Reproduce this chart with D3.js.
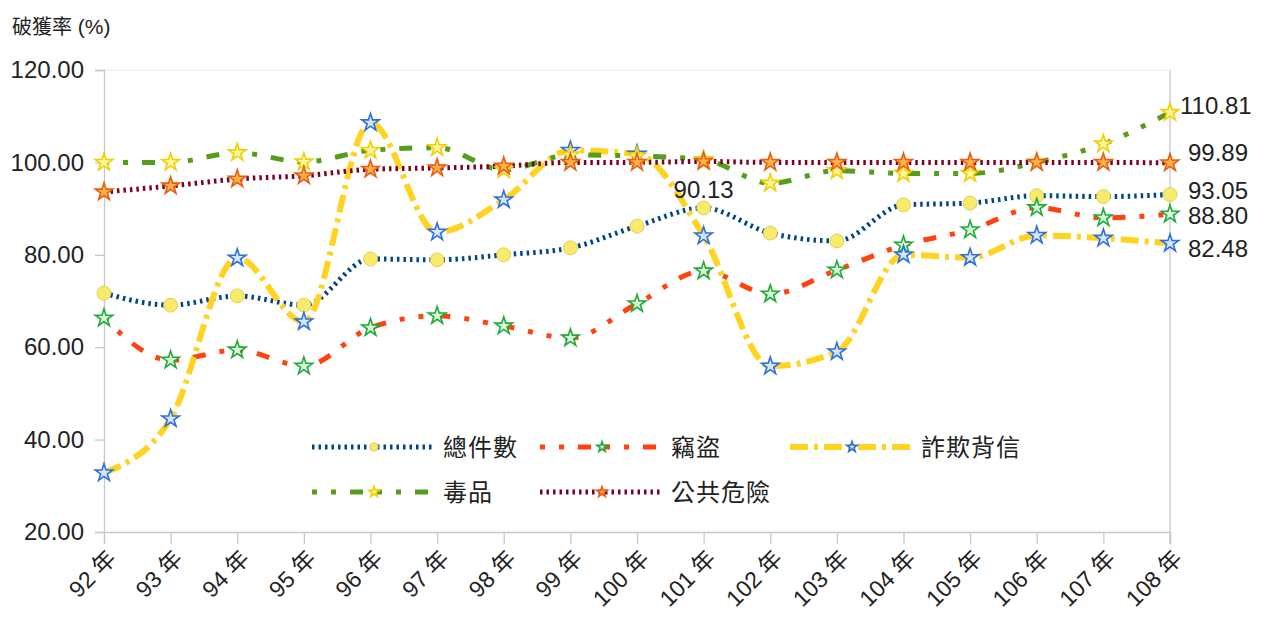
<!DOCTYPE html>
<html>
<head>
<meta charset="utf-8">
<script src="https://cdn.jsdelivr.net/npm/d3@7"></script>
<style>
  body { margin: 0; background: #fff; }
  text { font-family: "Liberation Sans", "Noto Sans CJK TC", sans-serif; fill: #222; }
  .cjk { font-family: "Noto Sans CJK TC", sans-serif; }
</style>
</head>
<body>
<div id="chart_area"></div>
<script>
// categories and series values
var years = ["92", "93", "94", "95", "96", "97", "98", "99", "100", "101", "102", "103", "104", "105", "106", "107", "108"];
var totalCases = [71.7, 69.1, 71.1, 69.1, 79.1, 78.9, 80.0, 81.5, 86.2, 90.13, 84.7, 83.0, 90.8, 91.2, 92.8, 92.6, 93.05];
var theft = [66.3, 57.2, 59.4, 55.9, 64.2, 66.8, 64.6, 62.0, 69.4, 76.5, 71.5, 76.7, 82.1, 85.4, 90.2, 88.0, 88.80];
var fraud = [32.8, 44.5, 79.3, 65.5, 108.6, 84.9, 91.9, 102.6, 101.8, 84.1, 55.9, 59.0, 80.0, 79.4, 84.2, 83.6, 82.48];
var drugs = [100.0, 100.0, 102.1, 100.1, 102.6, 103.2, 98.4, 101.6, 101.4, 100.6, 95.5, 98.2, 97.6, 97.6, 100.0, 104.0, 110.81];
var publicDanger = [93.6, 94.9, 96.4, 97.1, 98.5, 98.8, 99.2, 100.0, 100.0, 100.2, 100.0, 100.0, 100.0, 100.0, 100.0, 100.0, 99.89];
var yTicks = [20, 40, 60, 80, 100, 120];

var series = [
  { name: "總件數", values: totalCases, color: "#004586", dash: "2.5,4", width: 5, marker: "circle" },
  { name: "竊盜", values: theft, color: "#ff420e", dash: "5,14,5,14,13,14", width: 5, marker: "star", mFill: "#d9f7d9", mStroke: "#1faa3a" },
  { name: "詐欺背信", values: fraud, color: "#ffd320", dash: "18,6,4,6", width: 6, marker: "star", mFill: "#d6e6ff", mStroke: "#2f6fd8" },
  { name: "毒品", values: drugs, color: "#579d1c", dash: "5,14,5,14,13,14", width: 5, marker: "star", mFill: "#fff7a0", mStroke: "#f2cf00" },
  { name: "公共危險", values: publicDanger, color: "#7e0021", dash: "2.5,4", width: 5, marker: "star", mFill: "#ffb24a", mStroke: "#e85d10" }
];

var width = 1266, height = 621;
var margin = { top: 70, right: 96, bottom: 89, left: 104 };

var svg = d3.select("#chart_area").append("svg")
  .attr("width", width).attr("height", height);

var x = d3.scalePoint().domain(years).range([margin.left, width - margin.right]);
var y = d3.scaleLinear().domain([20, 120]).range([height - margin.bottom, margin.top]);

var x0 = margin.left, x1 = width - margin.right, yb = y(20), yt = y(120);

// frame
svg.append("line").attr("x1", x0).attr("x2", x1).attr("y1", yt).attr("y2", yt)
  .style("stroke", "#ececec").style("stroke-width", 1);
svg.append("line").attr("x1", x1).attr("x2", x1).attr("y1", yt).attr("y2", yb + 12)
  .style("stroke", "#c8c8c8").style("stroke-width", 1.3);

// y axis
var yAxis = d3.axisLeft(y).tickValues(yTicks).tickSize(9).tickPadding(11)
  .tickFormat(d3.format(".2f"));
var gy = svg.append("g").attr("transform", "translate(" + x0 + ",0)").call(yAxis);
gy.select(".domain").style("stroke", "#c8c8c8").style("stroke-width", 1.3);
gy.selectAll(".tick line").style("stroke", "#c8c8c8").style("stroke-width", 1.3);
gy.selectAll(".tick text").style("font-size", "24px").style("font-family", "Liberation Sans").style("fill", "#222");

// x axis
var xAxis = d3.axisBottom(x).tickSize(12).tickPadding(0).tickFormat(function (d) { return d + " 年"; });
var gx = svg.append("g").attr("transform", "translate(0," + yb + ")").call(xAxis);
gx.select(".domain").style("stroke", "#c8c8c8").style("stroke-width", 1.3);
gx.selectAll(".tick line").style("stroke", "#c8c8c8").style("stroke-width", 1.3);
gx.selectAll(".tick text")
  .style("font-size", "23px").style("font-family", "Liberation Sans, Noto Sans CJK TC").style("fill", "#222")
  .attr("text-anchor", "end")
  .attr("dy", null).attr("y", 0)
  .attr("transform", "translate(13,28) rotate(-45)");

// title
var title = svg.append("text").attr("class", "cjk").attr("x", 12).attr("y", 34)
  .style("font-size", "20px").text("破獲率");
title.append("tspan").style("font-family", "Liberation Sans").style("font-size", "21px").text(" (%)");

// lines
var line = d3.line()
  .x(function (d, i) { return x(years[i]); })
  .y(function (d) { return y(d); })
  .curve(d3.curveMonotoneX);

svg.append("g").selectAll("path")
  .data(series)
  .enter().append("path")
  .attr("d", function (s) { return line(s.values); })
  .style("fill", "none")
  .style("stroke", function (s) { return s.color; })
  .style("stroke-width", function (s) { return s.width; })
  .style("stroke-dasharray", function (s) { return s.dash; });

// markers
var star = d3.symbol().type(d3.symbolStar);

function drawMarker(g, s, cx, cy, scale) {
  if (s.marker == "circle") {
    g.append("circle").attr("cx", cx).attr("cy", cy).attr("r", 7 * scale)
      .style("fill", "#f8ea6a").style("stroke", "#d9c64a").style("stroke-width", 0.8);
  } else {
    g.append("path").attr("d", star.size(95 * scale * scale)())
      .attr("transform", "translate(" + cx + "," + cy + ")")
      .style("fill", s.mFill).style("stroke", s.mStroke).style("stroke-width", 1.6);
  }
}

var markers = svg.append("g");
series.forEach(function (s) {
  s.values.forEach(function (v, i) {
    drawMarker(markers, s, x(years[i]), y(v), 1);
  });
});

// data labels
svg.append("text").attr("x", x("101")).attr("y", y(90.13) - 10)
  .attr("text-anchor", "middle").style("font-size", "24px").text("90.13");

var endLabels = [
  { text: "110.81", value: 110.81, dx: 10, dy: 2 },
  { text: "99.89", value: 99.89, dx: 18, dy: -2 },
  { text: "93.05", value: 93.05, dx: 18, dy: 4 },
  { text: "88.80", value: 88.80, dx: 18, dy: 10 },
  { text: "82.48", value: 82.48, dx: 18, dy: 14 }
];
svg.append("g").selectAll("text")
  .data(endLabels)
  .enter().append("text")
  .attr("x", function (d) { return x("108") + d.dx; })
  .attr("y", function (d) { return y(d.value) + d.dy; })
  .style("font-size", "24px")
  .text(function (d) { return d.text; });

// legend
var legendPos = [
  { lx: 312, ly: 447 }, { lx: 540, ly: 447 }, { lx: 790, ly: 447 },
  { lx: 312, ly: 492 }, { lx: 540, ly: 492 }
];
var legend = svg.append("g");
series.forEach(function (s, i) {
  var p = legendPos[i];
  legend.append("line").attr("x1", p.lx).attr("x2", p.lx + 120).attr("y1", p.ly).attr("y2", p.ly)
    .style("stroke", s.color).style("stroke-width", s.width).style("stroke-dasharray", s.dash);
  drawMarker(legend, s, p.lx + 62, p.ly, 0.6);
  legend.append("text").attr("class", "cjk").attr("x", p.lx + 131).attr("y", p.ly + 9)
    .style("font-size", "24px").style("letter-spacing", "1px").text(s.name);
});
</script>
</body>
</html>
